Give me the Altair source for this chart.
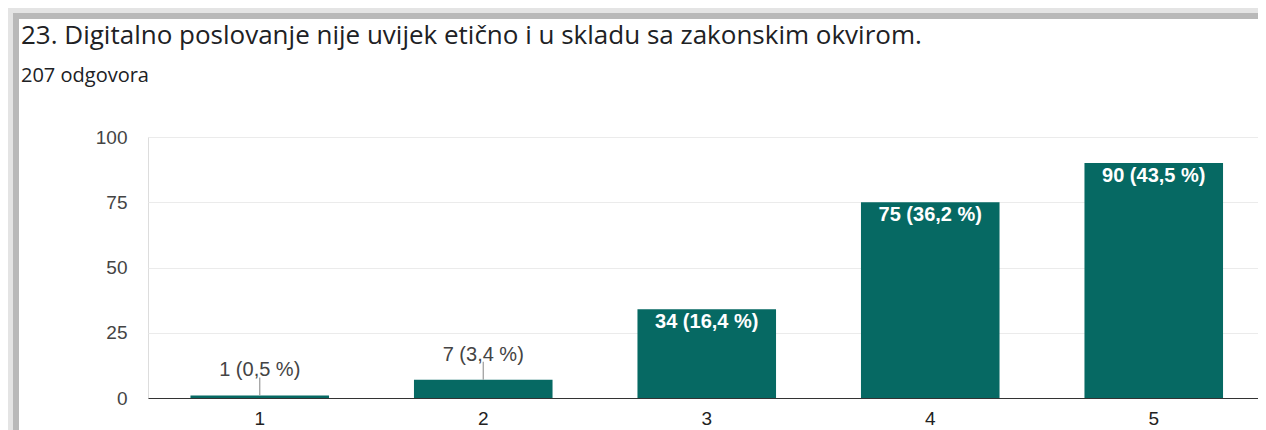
import altair as alt
import pandas as pd

categories = ["1", "2", "3", "4", "5"]
counts = [1, 7, 34, 75, 90]
percents = ["0,5", "3,4", "16,4", "36,2", "43,5"]
y_ticks = [0, 25, 50, 75, 100]

df = pd.DataFrame({
    "cat": categories,
    "count": counts,
    "label": [f"{c} ({p} %)" for c, p in zip(counts, percents)],
})
df["inside"] = df["count"] >= 20

TEAL = "#066963"
FONT = "Liberation Sans"
TFONT = "Open Sans"

x_enc = alt.X("cat:N", sort=categories,
              scale=alt.Scale(range=[0, 1117.5], paddingInner=0.38, paddingOuter=0.19),
              axis=alt.Axis(title=None, labelAngle=0, ticks=False, grid=False,
                            domainColor="#333333", domainWidth=1.2,
                            labelFontSize=19, labelColor="#222222", labelFont=FONT,
                            labelPadding=11))
y_enc = alt.Y("count:Q", scale=alt.Scale(domain=[0, 100], nice=False),
              axis=alt.Axis(title=None, values=y_ticks, ticks=False, domain=False,
                            gridColor="#ebebeb", gridWidth=1.2,
                            labelFontSize=19, labelColor="#444444", labelFont=FONT,
                            labelPadding=21))

base = alt.Chart(df)

bars = base.mark_bar(color=TEAL).encode(x=x_enc, y=y_enc)

inside = base.transform_filter("datum.inside").mark_text(
    color="white", fontSize=20, fontWeight="bold", font=FONT, baseline="top", dy=3
).encode(x=alt.X("cat:N", sort=categories), y="count:Q", text="label:N")

outside = base.transform_filter("!datum.inside").mark_text(
    color="#444444", fontSize=20, font=FONT, baseline="middle", dy=-25
).encode(x=alt.X("cat:N", sort=categories), y="count:Q", text="label:N")

leader = base.transform_filter("!datum.inside").mark_rule(
    color="#999999", strokeWidth=1.2, y2Offset=-18
).encode(x=alt.X("cat:N", sort=categories), y="count:Q", y2="count:Q")

deco_df = pd.DataFrame({"k": [0]})
deco = alt.Chart(deco_df)
shadow_left_light = deco.mark_rect(color="#e4e4e4").encode(
    x=alt.value(-140), x2=alt.value(-135), y=alt.value(-129), y2=alt.value(300))
shadow_left_dark = deco.mark_rect(color="#b9b9b9").encode(
    x=alt.value(-135), x2=alt.value(-129), y=alt.value(-124), y2=alt.value(300))
shadow_top_light = deco.mark_rect(color="#e4e4e4").encode(
    x=alt.value(-135), x2=alt.value(1110), y=alt.value(-129), y2=alt.value(-124))
shadow_top_dark = deco.mark_rect(color="#b9b9b9").encode(
    x=alt.value(-129), x2=alt.value(1110), y=alt.value(-124), y2=alt.value(-118))

chart = alt.layer(
    shadow_left_light, shadow_left_dark, shadow_top_light, shadow_top_dark,
    bars, leader, inside, outside
).properties(
    width=1110,
    height=261,
    padding={"left": 140, "top": 129, "right": 0, "bottom": 32},
    autosize=alt.AutoSizeParams(type="none"),
    title=alt.TitleParams(
        text="23. Digitalno poslovanje nije uvijek etično i u skladu sa zakonskim okvirom.",
        subtitle="207 odgovora",
        anchor="start", frame="group", dx=-127, dy=124, offset=46,
        font=TFONT, fontSize=26, fontWeight="normal", color="#202124",
        subtitleFont=TFONT, subtitleFontSize=20, subtitleColor="#202124",
        subtitlePadding=17,
    ),
).configure_view(stroke=None).configure(background="white")

chart.save("out.html", embed_options={"renderer": "svg", "actions": False})
